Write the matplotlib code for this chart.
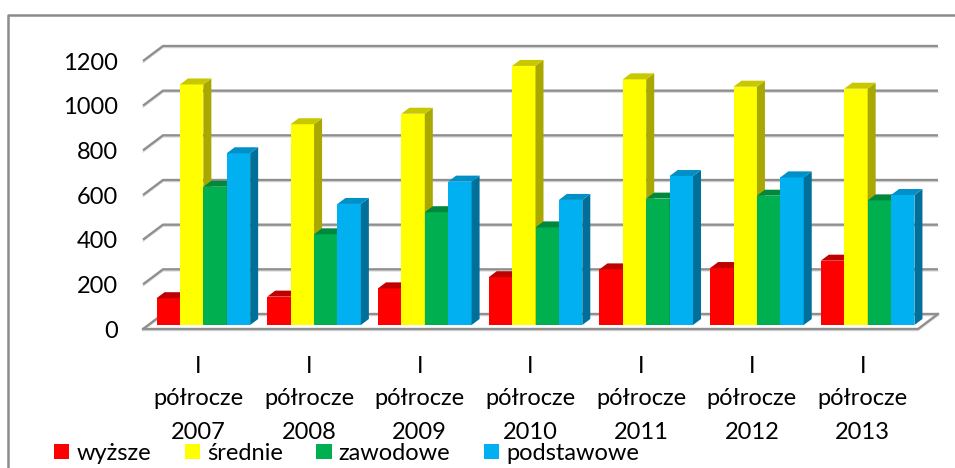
import numpy as np
import matplotlib.pyplot as plt
from matplotlib.patches import Polygon, Patch
from matplotlib.lines import Line2D

plt.rcParams['font.family'] = ['Lato', 'DejaVu Sans']

# dane
okresy = ['2007', '2008', '2009', '2010', '2011', '2012', '2013']
serie = ['wyższe', 'średnie', 'zawodowe', 'podstawowe']
wyzsze = [120, 127, 164, 214, 249, 255, 288]
srednie = [1077, 899, 946, 1160, 1100, 1067, 1058]
zawodowe = [619, 406, 505, 437, 566, 579, 558]
podstawowe = [769, 542, 642, 560, 667, 661, 582]
yticks = [0, 200, 400, 600, 800, 1000, 1200]

front_col = ['#FF0000', '#FFFF00', '#00B050', '#00B0F0']
top_col = ['#C00000', '#C8C800', '#00883C', '#0090C8']
side_col = ['#A80000', '#A8A800', '#007030', '#006F99']

W, H = 955, 468
fig = plt.figure(figsize=(W / 100, H / 100), dpi=100)
ax = fig.add_axes([148 / W, 143 / H, 775 / W, 268 / H])
ax.set_xlim(-0.5, 6.5)
ax.set_ylim(0, 1200)
ax.set_axis_off()

# jednostki danych na piksel
PX = 7 / 775
PY = 1200 / 268

# sciany / siatka
xl_f, xl_b, xr_b = -0.5 - 5 * PX, -0.5 + 15 * PX, 6.5 + 15 * PX
xr_f = 6.5 - 5 * PX
for v in yticks:
    ax.plot([xl_f, xl_b, xr_b], [v - 4 * PY, v + 11 * PY, v + 11 * PY],
            color='#8f8f8f', lw=1.7, clip_on=False, zorder=1, solid_capstyle='butt')
    ax.plot([xl_f, xl_b, xr_b], [v - 5.6 * PY, v + 9.4 * PY, v + 9.4 * PY],
            color='#dcdcdc', lw=1.0, clip_on=False, zorder=0.9)
ax.plot([xl_f, xr_f, xr_b], [-4 * PY, -4 * PY, 11 * PY],
        color='#8f8f8f', lw=1.7, clip_on=False, zorder=1)
ax.plot([xl_f, xr_f, xr_b], [-5.6 * PY, -5.6 * PY, 9.4 * PY],
        color='#dcdcdc', lw=1.0, clip_on=False, zorder=0.9)

# etykiety osi y
for v in yticks:
    ax.text(xl_f - 25 * PX, v - 4 * PY, str(v), ha='right', va='center_baseline',
            fontsize=17, color='black', clip_on=False)

# slupki 3D
bw = 23.4 * PX
dx, dy = 8 * PX, 6 * PY
x = np.arange(len(okresy))
dane = [wyzsze, srednie, zawodowe, podstawowe]
for k, vals in enumerate(dane):
    xs = x + (k - 1.5) * bw
    ax.bar(xs, vals, width=bw, color=front_col[k], edgecolor='none', zorder=3 + k)
    for xc, h in zip(xs, vals):
        x0, x1 = xc - bw / 2, xc + bw / 2
        top = Polygon([(x0, h), (x1, h), (x1 + dx, h + dy), (x0 + dx, h + dy)],
                      closed=True, facecolor=top_col[k], edgecolor='none',
                      zorder=3 + k, clip_on=False)
        side = Polygon([(x1, 0), (x1 + dx, dy), (x1 + dx, h + dy), (x1, h)],
                       closed=True, facecolor=side_col[k], edgecolor='none',
                       zorder=3 + k, clip_on=False)
        ax.add_patch(side)
        ax.add_patch(top)

# etykiety osi x
for i, rok in enumerate(okresy):
    xc = i - 5 * PX
    ax.text(xc, (325 - 373) * PY, 'I', ha='center', va='baseline', fontsize=17, clip_on=False)
    ax.text(xc, (325 - 405) * PY, 'półrocze', ha='center', va='baseline', fontsize=17, clip_on=False)
    ax.text(xc, (325 - 439) * PY, rok, ha='center', va='baseline', fontsize=17, clip_on=False)

# legenda
handles = [Patch(facecolor=c, edgecolor='none') for c in front_col]
fig.legend(handles, serie, loc='lower left', bbox_to_anchor=(54 / W, 4 / H),
           ncol=4, frameon=False, fontsize=17, handlelength=0.64, handleheight=0.6,
           handletextpad=0.3, columnspacing=1.43, borderaxespad=0, borderpad=0)

# ramka
fig.add_artist(Line2D([8 / W, 8 / W, 1], [0, 1 - 15 / H, 1 - 15 / H],
                      color='#8c8c8c', lw=1.8, transform=fig.transFigure))

fig.savefig('out.png', dpi=100)
